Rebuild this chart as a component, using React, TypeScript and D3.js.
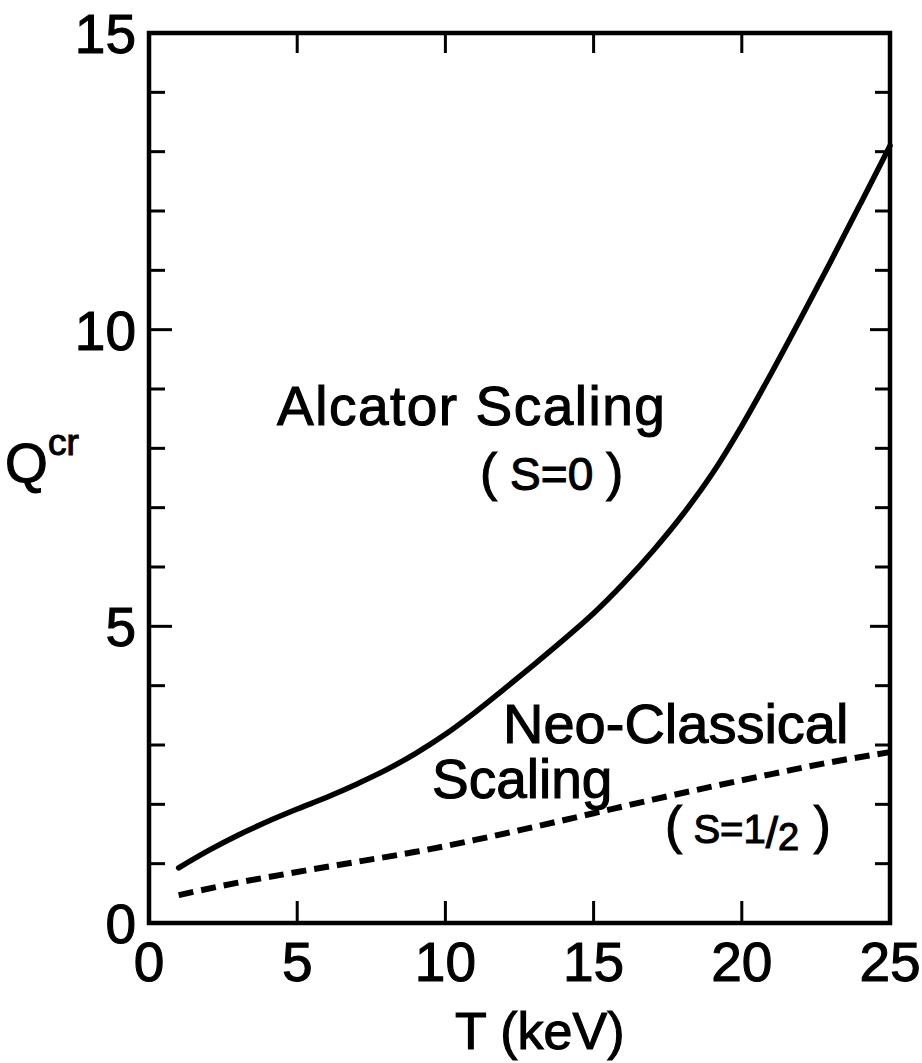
import React from "react";
import * as d3 from "d3";

const alcatorT = [1, 2, 3, 4, 5, 6, 7, 8, 9, 10, 11, 12, 13, 14, 15, 16, 17, 18, 19, 20, 21, 22, 23, 24, 25];
const alcatorQ = [0.93, 1.22, 1.48, 1.71, 1.92, 2.12, 2.34, 2.58, 2.86, 3.18, 3.55, 3.95, 4.36, 4.78, 5.22, 5.72, 6.27, 6.88, 7.57, 8.38, 9.27, 10.2, 11.15, 12.12, 13.1];
const neoT = [1, 3, 5, 7, 9, 11, 13, 15, 17, 19, 21, 23, 25];
const neoQ = [0.47, 0.68, 0.86, 1.03, 1.2, 1.4, 1.62, 1.85, 2.08, 2.3, 2.51, 2.71, 2.88];
const xTicks = [0, 5, 10, 15, 20, 25];
const yTicks = [0, 5, 10, 15];
const yMinor = d3.range(1, 15);

const W = 922;
const H = 1063;
const FONT = "'Liberation Sans', Arial, sans-serif";

export default function App() {
  const x = d3.scaleLinear().domain([0, 25]).range([149, 890]);
  const y = d3.scaleLinear().domain([0, 15]).range([923, 33]);
  const line = d3
    .line<[number, number]>()
    .x((d) => x(d[0]))
    .y((d) => y(d[1]))
    .curve(d3.curveMonotoneX);
  const solid = line(alcatorT.map((t, i) => [t, alcatorQ[i]] as [number, number])) || "";
  const dashed = line(neoT.map((t, i) => [t, neoQ[i]] as [number, number])) || "";

  const txt = { fill: "#000", stroke: "#000", strokeWidth: 1.1 };

  return (
    <svg
      width={W}
      height={H}
      style={{ position: "absolute", left: 0, top: 0, background: "#fff" }}
      fontFamily={FONT}
    >
      <rect x={0} y={0} width={W} height={H} fill="#fff" />
      {/* minor ticks left & right */}
      {yMinor.map((v) => {
        const major = v % 5 === 0;
        return (
          <g key={"ym" + v} stroke="#000" strokeWidth={3}>
            <line x1={x(0)} x2={x(0) + (major ? 23 : 16)} y1={y(v)} y2={y(v)} />
            <line x1={x(25)} x2={x(25) - (major ? 20 : 15)} y1={y(v)} y2={y(v)} />
          </g>
        );
      })}
      {/* x ticks top & bottom */}
      {xTicks.slice(1, -1).map((v) => (
        <g key={"xt" + v} stroke="#000" strokeWidth={3}>
          <line x1={x(v)} x2={x(v)} y1={y(0)} y2={y(0) - 22} />
          <line x1={x(v)} x2={x(v)} y1={y(15)} y2={y(15) + 20} />
        </g>
      ))}
      {/* frame */}
      <rect
        x={x(0)}
        y={y(15)}
        width={x(25) - x(0)}
        height={y(0) - y(15)}
        fill="none"
        stroke="#000"
        strokeWidth={4.5}
      />
      {/* curves */}
      <path d={solid} fill="none" stroke="#000" strokeWidth={5.5} strokeLinecap="round" />
      <path
        d={dashed}
        fill="none"
        stroke="#000"
        strokeWidth={6}
        strokeDasharray="15 8"
        strokeLinecap="butt"
      />
      {/* tick labels */}
      {xTicks.map((v) => (
        <text key={"xl" + v} x={x(v)} y={981} fontSize={55} textAnchor="middle" {...txt}>
          {v}
        </text>
      ))}
      {yTicks.map((v) => (
        <text key={"yl" + v} x={136} y={y(v) + 20} fontSize={55} textAnchor="end" {...txt}>
          {v}
        </text>
      ))}
      {/* axis labels */}
      <text x={455} y={1049} fontSize={52} {...txt}>
        T (keV)
      </text>
      <text x={5} y={482} fontSize={55} {...txt}>
        Q
      </text>
      <text x={48} y={455} fontSize={37} {...txt}>
        cr
      </text>
      {/* annotations */}
      <text x={277} y={425} fontSize={55} letterSpacing={1.5} {...txt}>
        Alcator Scaling
      </text>
      <text x={480} y={490} fontSize={46} {...txt}>
        <tspan fontSize={52}>(</tspan>
        <tspan> S=0 </tspan>
        <tspan fontSize={52}>)</tspan>
      </text>
      <text x={503} y={743} fontSize={56} {...txt}>
        Neo-Classical
      </text>
      <text x={432} y={798} fontSize={55} {...txt}>
        Scaling
      </text>
      <text x={665} y={843} fontSize={40} {...txt}>
        <tspan fontSize={52}>(</tspan>
        <tspan> S=1</tspan>
        <tspan dy={5} fontSize={44}>/</tspan>
        <tspan dy={2} fontSize={38}>2</tspan>
        <tspan dy={-7} fontSize={52}> )</tspan>
      </text>
    </svg>
  );
}
